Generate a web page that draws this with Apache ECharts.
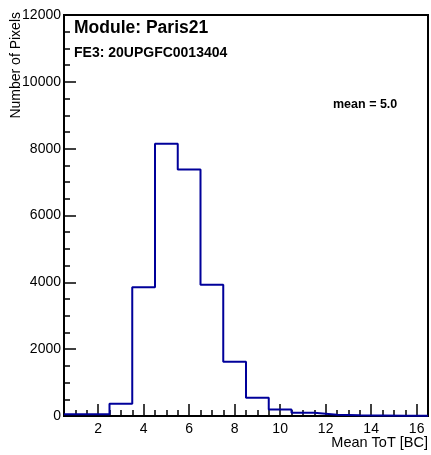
<!DOCTYPE html>
<html>
<head>
<meta charset="utf-8">
<script src="https://cdn.jsdelivr.net/npm/echarts@6/dist/echarts.min.js"></script>
<style>html,body{margin:0;padding:0;background:#fff}#c{width:431px;height:455px}</style>
</head>
<body>
<div id="c"></div>
<script>
// Bin lower edges (bin width 1, range 0.5 - 16.5)
var binEdges = [0.5,1.5,2.5,3.5,4.5,5.5,6.5,7.5,8.5,9.5,10.5,11.5,12.5,13.5,14.5,15.5];
var binUpper = 16.5;
var counts = [50,50,370,3850,8150,7380,3930,1620,545,195,95,40,20,15,10,5];
var xMajorTicks = [2,4,6,8,10,12,14,16];
var xMinorTicks = [1,1.5,2.5,3,3.5,4.5,5,5.5,6.5,7,7.5,8.5,9,9.5,10.5,11,11.5,12.5,13,13.5,14.5,15,15.5,16];
var yMajorTicks = [0,2000,4000,6000,8000,10000,12000];
var xTitle = 'Mean ToT [BC]';
var yTitle = 'Number of Pixels';
var moduleText = 'Module: Paris21';
var feText = 'FE3: 20UPGFC0013404';
var meanText = 'mean = 5.0';

var stepData = binEdges.map(function(e,i){return [e, counts[i]];});
stepData.push([binUpper, counts[counts.length-1]]);

var chart = echarts.init(document.getElementById('c'), null, {renderer:'canvas'});
var font = 'Liberation Sans, Arial, Helvetica, sans-serif';
chart.setOption({
  animation:false,
  grid:{left:64, top:15, width:364, height:401, show:true, borderColor:'#000', borderWidth:2, backgroundColor:'transparent'},
  xAxis:[{
    type:'value', min:0.5, max:16.5, position:'bottom',
    axisLine:{show:false},
    axisTick:{show:true, inside:true, length:12, customValues:xMajorTicks, lineStyle:{color:'#000', width:1.5}},
    axisLabel:{show:true, customValues:xMajorTicks, margin:6, color:'#000', fontSize:14, fontFamily:font},
    splitLine:{show:false}
  },{
    type:'value', min:0.5, max:16.5, position:'bottom',
    axisLine:{show:false},
    axisTick:{show:true, inside:true, length:6, customValues:xMinorTicks, lineStyle:{color:'#000', width:1.5}},
    axisLabel:{show:false},
    splitLine:{show:false}
  }],
  yAxis:[{
    type:'value', min:0, max:12000, position:'left',
    axisLine:{show:false},
    axisTick:{show:true, inside:true, length:12, customValues:yMajorTicks, lineStyle:{color:'#000', width:1.5}},
    minorTick:{show:true, splitNumber:4, length:6, lineStyle:{color:'#000', width:1.5}},
    axisLabel:{margin:3, color:'#000', fontSize:14, fontFamily:font, customValues:yMajorTicks,
      formatter:function(v){return String(v);}},
    splitLine:{show:false}
  }],
  series:[{
    type:'line', step:'end', data:stepData, xAxisIndex:0, yAxisIndex:0,
    symbol:'none', lineStyle:{color:'#00009a', width:2}, z:5
  }],
  graphic:[
    {type:'text', left:74, top:19, style:{text:moduleText, font:'bold 17.5px '+font, fill:'#000'}},
    {type:'text', left:74, top:46, style:{text:feText, font:'bold 14px '+font, fill:'#000'}},
    {type:'text', left:333, top:98, style:{text:meanText, font:'bold 12.5px '+font, fill:'#000'}},
    {type:'text', x:428, y:443, style:{text:xTitle, font:'14.5px '+font, fill:'#000', align:'right', verticalAlign:'middle'}},
    {type:'text', x:16, y:12, rotation:Math.PI/2, style:{text:yTitle, font:'14px '+font, fill:'#000', align:'right', verticalAlign:'middle'}}
  ]
});
</script>
</body>
</html>
